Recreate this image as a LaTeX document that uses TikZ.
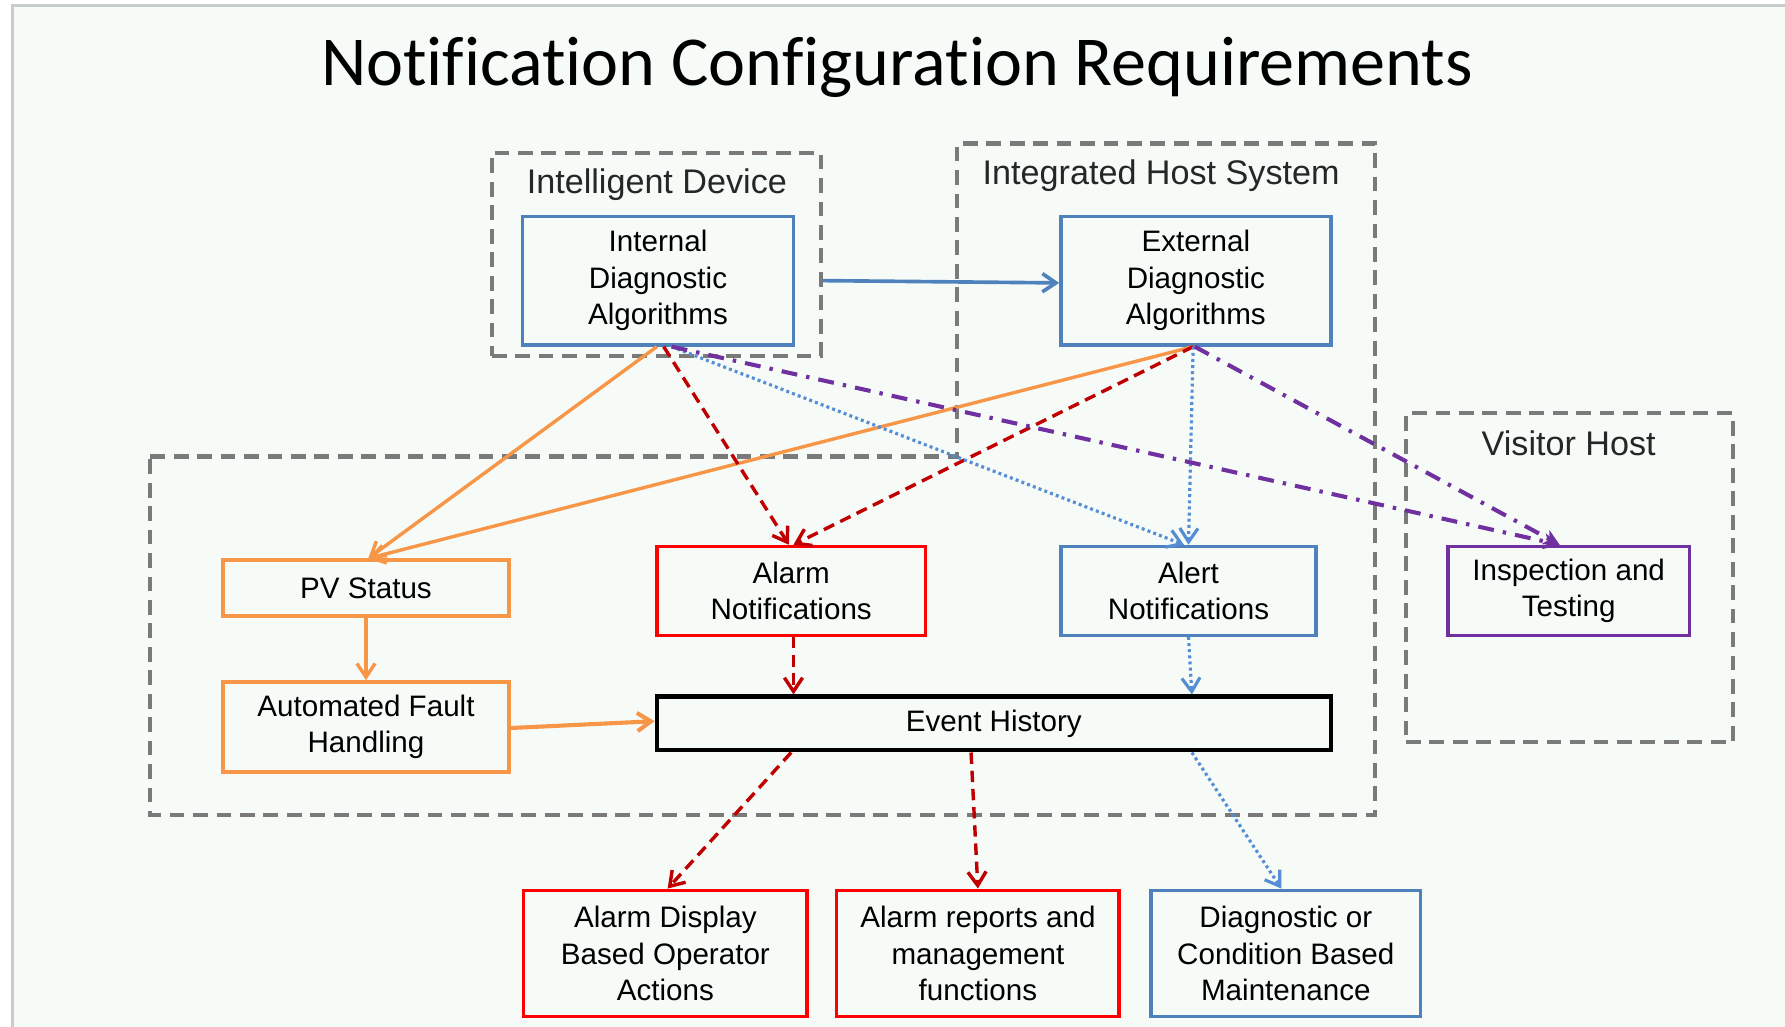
\documentclass[tikz,border=0pt]{standalone}
\usepackage{fontspec}
\setmainfont{Liberation Sans}
\newfontfamily\titlefont[Ligatures=NoCommon]{Carlito}
\usetikzlibrary{arrows.meta}
\definecolor{slidebg}{HTML}{F6FBF8}
\definecolor{edgegray}{HTML}{C9CDC9}
\definecolor{grpgray}{HTML}{7A7A7A}
\definecolor{boxblue}{HTML}{4F81BD}
\definecolor{dotblue}{HTML}{558ED5}
\definecolor{boxorange}{HTML}{F79646}
\definecolor{boxred}{HTML}{FF0000}
\definecolor{arrred}{HTML}{C00000}
\definecolor{boxpurple}{HTML}{7030A0}
\begin{document}
\begin{tikzpicture}[x=0.5pt,y=-0.5pt,
  box/.style={draw, line width=1.5pt, align=center, inner sep=0pt,
    font=\fontsize{13}{16}\selectfont},
  grp/.style={draw=grpgray, line width=1.8pt, dash pattern=on 6.5pt off 3.8pt},
  grplabel/.style={font=\fontsize{15}{18}\selectfont, text=black!85},
  vhead/.style={-{Straight Barb[length=6pt,width=8pt]}},
  arr/.style={line width=1.5pt, vhead},
  redarr/.style={arr, draw=arrred, dash pattern=on 5pt off 3pt},
  bluearr/.style={arr, line width=1.4pt, draw=dotblue, dash pattern=on 1.3pt off 1.4pt},
  purparr/.style={line width=1.8pt, draw=boxpurple, dash pattern=on 7pt off 4pt on 1.5pt off 4pt,
    -{Stealth[length=7pt,width=7pt,inset=2pt]}},
  orarr/.style={arr, draw=boxorange}]
\useasboundingbox (0,0) rectangle (1568,902);
\fill[white] (0,0) rectangle (1568,902);
\fill[slidebg] (11,5) rectangle (1572,906);
\draw[edgegray, line width=1.3pt] (11,906) -- (11,5) -- (1572,5);

% title
\node[font=\titlefont\fontsize{30.8}{36}\selectfont] (title) at (788,59) {Notification Configuration Requirements};

% group boxes
\node[grp, minimum width=144.5pt, minimum height=89.5pt, inner sep=0pt] (intdev) at (576.5,223.5) {};
\draw[grp] (132,401) -- (841,401) -- (841,126) -- (1208,126) -- (1208,716) -- (132,716) -- cycle;
\node[grp, minimum width=143.5pt, minimum height=144.5pt, inner sep=0pt] (visitor) at (1378.5,507.5) {};
\node[grplabel] (lintdev) at (577,162) {Intelligent Device};
\node[grplabel] (linthost) at (1020,154) {Integrated Host System};
\node[grplabel] (lvisitor) at (1378,389) {Visitor Host};

% boxes
\node[box, draw=boxblue, minimum width=119pt, minimum height=56.5pt] (intalg) at (578,246.5) {Internal\\Diagnostic\\Algorithms};
\node[box, draw=boxblue, minimum width=118.5pt, minimum height=56.5pt] (extalg) at (1050.5,246.5) {External\\Diagnostic\\Algorithms};
\node[box, draw=boxorange, minimum width=125.5pt, minimum height=24.5pt] (pv) at (321.5,516.5) {PV Status};
\node[box, draw=boxorange, minimum width=125.5pt, minimum height=39.5pt] (afh) at (321.5,638.5) {Automated Fault\\Handling};
\node[box, draw=boxred, minimum width=118pt, minimum height=39pt] (alarmn) at (695,519) {Alarm\\Notifications};
\node[box, draw=boxblue, minimum width=112pt, minimum height=39pt] (alertn) at (1044,519) {Alert\\Notifications};
\node[box, draw=boxpurple, minimum width=106pt, minimum height=39pt] (insp) at (1378,519) {Inspection and\\Testing};
\node[box, draw=black, line width=2pt, minimum width=296pt, minimum height=23.5pt] (event) at (873,635.5) {Event History};
\node[box, draw=boxred, minimum width=124.5pt, minimum height=55.5pt] (adisp) at (584.5,837.5) {Alarm Display\\Based Operator\\Actions};
\node[box, draw=boxred, minimum width=124pt, minimum height=55.5pt] (arep) at (859,837.5) {Alarm reports and\\management\\functions};
\node[box, draw=boxblue, minimum width=118.5pt, minimum height=55.5pt] (dmaint) at (1129.5,837.5) {Diagnostic or\\Condition Based\\Maintenance};

% connectors
\draw[arr, draw=boxblue, line width=1.6pt] (intdev.east |- intalg.east) -- ([yshift=-1pt]extalg.west);
\draw[orarr] ([xshift=-0.5pt]intalg.south) -- ([xshift=1pt]pv.north);
\draw[orarr] ([xshift=-1.2pt]extalg.south) -- ([xshift=1pt]pv.north);
\draw[redarr] ([xshift=2.5pt]intalg.south) -- ([xshift=-1pt]alarmn.north);
\draw[redarr] ([xshift=-1.2pt]extalg.south) -- ([xshift=1pt]alarmn.north);
\draw[bluearr] ([xshift=6pt]intalg.south) -- ([xshift=-2pt]alertn.north);
\draw[bluearr] ([xshift=-1.2pt]extalg.south) -- (alertn.north);
\draw[purparr] ([xshift=6pt]intalg.south) -- ([xshift=-4pt]insp.north);
\draw[purparr] ([xshift=-0.5pt]extalg.south) -- ([xshift=-4pt]insp.north);
\draw[orarr] (pv.south) -- (afh.north);
\draw[orarr, line width=1.8pt] ([yshift=-0.5pt]afh.east) -- ([yshift=1pt]event.west);
\draw[redarr] ([xshift=1pt]alarmn.south) -- ([xshift=1pt]alarmn.south |- event.north);
\draw[bluearr] (alertn.south) -- ([xshift=1.5pt]alertn.south |- event.north);
\draw[redarr] (event.south -| alarmn.south) -- ([xshift=1pt]adisp.north);
\draw[redarr] ([xshift=-10pt]event.south) -- (arep.north);
\draw[bluearr] ([xshift=1.5pt]event.south -| alertn.south) -- ([xshift=-2pt]dmaint.north);
\end{tikzpicture}
\end{document}
